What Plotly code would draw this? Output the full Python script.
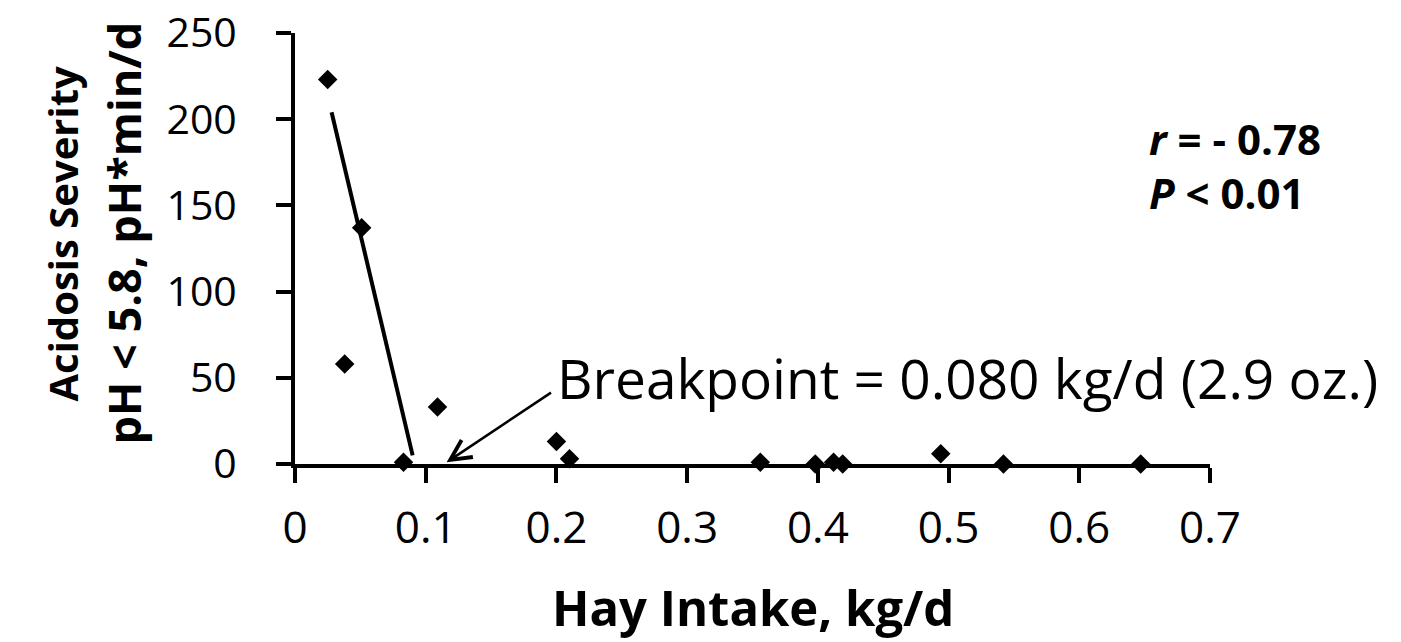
import plotly.graph_objects as go

hay_intake = [0.025, 0.038, 0.051, 0.083, 0.109, 0.200, 0.210, 0.356, 0.398, 0.412, 0.419, 0.494, 0.542, 0.647]
severity = [223, 58, 137, 1, 33, 13, 3, 1, 0, 1, 0, 6, 0, 0]

# Fitted segment (broken-line regression) endpoints
fit_x = [0.028, 0.090]
fit_y = [204, 5]

x_ticks = [0, 0.1, 0.2, 0.3, 0.4, 0.5, 0.6, 0.7]
x_tick_labels = ["0", "0.1", "0.2", "0.3", "0.4", "0.5", "0.6", "0.7"]
y_ticks = [0, 50, 100, 150, 200, 250]
y_tick_labels = ["0", "50", "100", "150", "200", "250"]

FONT = "Open Sans"

fig = go.Figure()
fig.add_trace(go.Scatter(
    x=fit_x, y=fit_y, mode="lines",
    line=dict(color="black", width=4), showlegend=False, hoverinfo="skip"))
fig.add_trace(go.Scatter(
    x=hay_intake, y=severity, mode="markers",
    marker=dict(symbol="diamond", size=15, color="black"),
    showlegend=False, cliponaxis=False))

fig.update_layout(
    width=1393, height=634,
    margin=dict(l=287, r=191, t=25, b=178),
    paper_bgcolor="white", plot_bgcolor="white",
    font=dict(family=FONT, color="black"),
    xaxis=dict(range=[0, 0.7], tickvals=x_ticks, ticktext=x_tick_labels,
               showgrid=False, zeroline=False, showline=True, linecolor="black",
               linewidth=4, ticks="outside", ticklen=15, tickwidth=4, tickcolor="black",
               tickfont=dict(size=44, family=FONT), ticklabelstandoff=7,
               ticklabeloverflow="allow", automargin=False),
    yaxis=dict(range=[0, 250], tickvals=y_ticks, ticktext=y_tick_labels,
               showgrid=False, zeroline=False, showline=True, linecolor="black",
               linewidth=4, ticks="outside", ticklen=15, tickwidth=4, tickcolor="black",
               tickfont=dict(size=41, family=FONT), ticklabelstandoff=31,
               ticklabeloverflow="allow", automargin=False),
)

annotations = [
    dict(text="<b>Hay Intake, kg/d</b>", xref="paper", yref="paper", x=0.5, y=0,
         yshift=-143, xanchor="center", yanchor="middle", showarrow=False,
         font=dict(size=49, family=FONT)),
    dict(text="<b>Acidosis Severity</b>", xref="paper", yref="paper", x=0, y=0.5,
         xshift=-233, yshift=15, textangle=-90, xanchor="center", yanchor="middle",
         showarrow=False, font=dict(size=40, family=FONT)),
    dict(text="<b>pH < 5.8, pH*min/d</b>", xref="paper", yref="paper", x=0, y=0.5,
         xshift=-172, yshift=15, textangle=-90, xanchor="center", yanchor="middle",
         showarrow=False, font=dict(size=45, family=FONT)),
    dict(text="<b><i>r</i> = - 0.78</b>", xref="paper", yref="paper", x=1, y=1,
         xshift=-63, yshift=-105, xanchor="left", yanchor="middle", showarrow=False,
         font=dict(size=42, family=FONT)),
    dict(text="<b><i>P</i> < 0.01</b>", xref="paper", yref="paper", x=1, y=1,
         xshift=-63, yshift=-159, xanchor="left", yanchor="middle", showarrow=False,
         font=dict(size=42, family=FONT)),
    dict(text="Breakpoint = 0.080 kg/d (2.9 oz.)", x=0.199, y=50, xref="x", yref="y",
         xanchor="left", yanchor="middle", showarrow=False,
         font=dict(size=55, family=FONT)),
    dict(text="", x=0.116, y=1, xref="x", yref="y", ax=0.197, ay=42, axref="x", ayref="y",
         showarrow=True, arrowhead=5, arrowsize=1.6, arrowwidth=2.5, arrowcolor="black"),
]
fig.update_layout(annotations=annotations)

fig.write_html("out.html")
